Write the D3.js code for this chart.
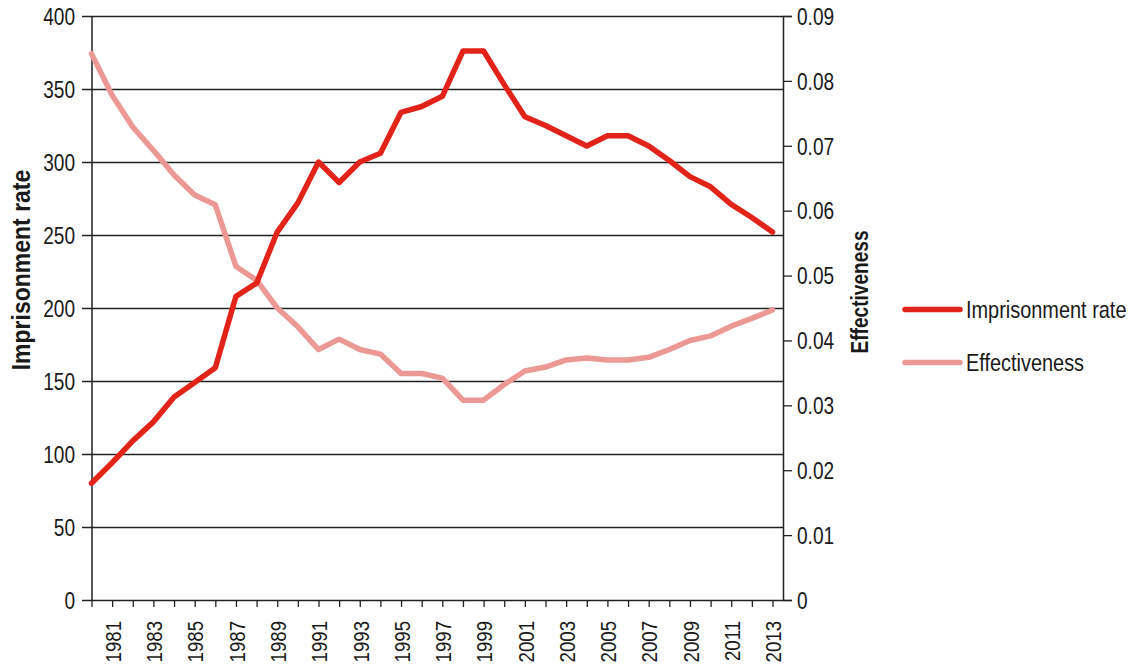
<!DOCTYPE html>
<html>
  <head>
    <meta charset="utf-8">
    <title>Imprisonment rate and effectiveness</title>
    <script src="https://d3js.org/d3.v7.min.js"></script>
    <style>
      body { margin: 0; background: #fff; }
      text { font-family: "Liberation Sans", Arial, sans-serif; fill: #1a1a1a; }
    </style>
  </head>
  <body>
    <script>
      // data
      var years = d3.range(1980, 2014);
      var imprisonment = [80, 94, 109, 122, 139, 149, 159, 208, 217, 252,
                          272, 300, 286, 300, 306, 334, 338, 345, 376, 376,
                          353, 331, 325, 318, 311, 318, 318, 311, 301, 290,
                          283, 271, 262, 252];
      var effectiveness = [0.0842, 0.0778, 0.0729, 0.0693, 0.0655, 0.0624, 0.0609, 0.0514, 0.0493, 0.0450,
                           0.0421, 0.0386, 0.0402, 0.0386, 0.0379, 0.0349, 0.0349, 0.0342, 0.0308, 0.0308,
                           0.0332, 0.0353, 0.0359, 0.0370, 0.0373, 0.0370, 0.0370, 0.0374, 0.0386, 0.0400,
                           0.0407, 0.0422, 0.0434, 0.0447];
      var leftTicks = [0, 50, 100, 150, 200, 250, 300, 350, 400];
      var rightTicks = [0, 0.01, 0.02, 0.03, 0.04, 0.05, 0.06, 0.07, 0.08, 0.09];
      var seriesNames = ["Imprisonment rate", "Effectiveness"];
      var colors = ["#e2231a", "#ec9995"];

      var width = 1132, height = 667;
      var mLeft = 92, mRight = 783, mTop = 16, mBottom = 600;
      var squeeze = 0.83; // fake a condensed face

      var svg = d3.select("body").append("svg")
        .attr("width", width)
        .attr("height", height);

      var x = d3.scaleLinear().domain([1980, 2013]).range([91.5, 772.5]);
      var yL = d3.scaleLinear().domain([0, 400]).range([mBottom, mTop]);
      var yR = d3.scaleLinear().domain([0, 0.09]).range([mBottom, mTop]);

      // horizontal grid + left axis
      svg.append("g")
        .attr("transform", "translate(" + mLeft + ",0)")
        .call(d3.axisLeft(yL).tickValues(leftTicks).tickSize(0))
        .call(function(g) {
          g.select(".domain").remove();
          g.selectAll(".tick line").remove();
          g.selectAll(".tick").append("line")
            .attr("x1", -10).attr("x2", mRight - mLeft)
            .attr("stroke", "#222").attr("stroke-width", 1.3);
          g.selectAll("text")
            .attr("x", 0).attr("dy", "0.36em")
            .attr("transform", "translate(-17,0) scale(" + squeeze + ",1)")
            .attr("font-size", 23).attr("fill", "#1a1a1a");
        });

      // left vertical axis line
      svg.append("line")
        .attr("x1", mLeft).attr("x2", mLeft).attr("y1", mTop).attr("y2", mBottom)
        .attr("stroke", "#222").attr("stroke-width", 1.5);

      // right axis
      svg.append("g")
        .attr("transform", "translate(" + mRight + ",0)")
        .call(d3.axisRight(yR).tickValues(rightTicks).tickSize(9)
          .tickFormat(function(d) { return d === 0 ? "0" : d3.format(".2f")(d); }))
        .call(function(g) {
          g.select(".domain").attr("stroke", "#222").attr("stroke-width", 1.5);
          g.selectAll(".tick line").attr("stroke", "#222").attr("stroke-width", 1.3);
          g.selectAll("text")
            .attr("x", 0).attr("dy", "0.36em")
            .attr("transform", "translate(14,0) scale(" + squeeze + ",1)")
            .attr("font-size", 23).attr("fill", "#1a1a1a");
        });

      // bottom axis
      svg.append("g")
        .attr("transform", "translate(0," + mBottom + ")")
        .call(d3.axisBottom(x).tickValues(years).tickSize(7)
          .tickFormat(function(d) { return d % 2 === 1 ? d : ""; }))
        .call(function(g) {
          g.select(".domain").remove();
          g.selectAll(".tick line").attr("stroke", "#222").attr("stroke-width", 1.3);
          g.selectAll("text")
            .attr("font-size", 23).attr("fill", "#1a1a1a")
            .attr("transform", "translate(0,21) rotate(-90) scale(0.81,1)")
            .attr("text-anchor", "end")
            .attr("x", 0).attr("y", 0).attr("dy", "0.36em");
        });

      // axis titles
      svg.append("text")
        .attr("transform", "translate(30,270) rotate(-90) scale(0.92,1)")
        .attr("text-anchor", "middle")
        .attr("font-size", 25).attr("font-weight", "bold")
        .text("Imprisonment rate");
      svg.append("text")
        .attr("transform", "translate(868,292) rotate(-90) scale(" + squeeze + ",1)")
        .attr("text-anchor", "middle")
        .attr("font-size", 23).attr("font-weight", "bold")
        .text("Effectiveness");

      // lines
      var lineL = d3.line().x(function(d, i) { return x(years[i]); }).y(function(d) { return yL(d); });
      var lineR = d3.line().x(function(d, i) { return x(years[i]); }).y(function(d) { return yR(d); });

      svg.append("path").datum(effectiveness)
        .attr("d", lineR).attr("fill", "none")
        .attr("stroke", colors[1]).attr("stroke-width", 5.5)
        .attr("stroke-linejoin", "round").attr("stroke-linecap", "round");
      svg.append("path").datum(imprisonment)
        .attr("d", lineL).attr("fill", "none")
        .attr("stroke", colors[0]).attr("stroke-width", 5.5)
        .attr("stroke-linejoin", "round").attr("stroke-linecap", "round");

      // legend
      var legend = svg.append("g").selectAll("g").data(seriesNames).enter().append("g")
        .attr("transform", function(d, i) { return "translate(905," + (309.5 + i * 53) + ")"; });
      legend.append("line")
        .attr("x1", 0).attr("x2", 55)
        .attr("stroke", function(d, i) { return colors[i]; })
        .attr("stroke-width", 5.5).attr("stroke-linecap", "round");
      legend.append("text")
        .attr("transform", "translate(61,0) scale(" + squeeze + ",1)")
        .attr("dy", "0.36em")
        .attr("font-size", 24)
        .text(function(d) { return d; });
    </script>
  </body>
</html>
